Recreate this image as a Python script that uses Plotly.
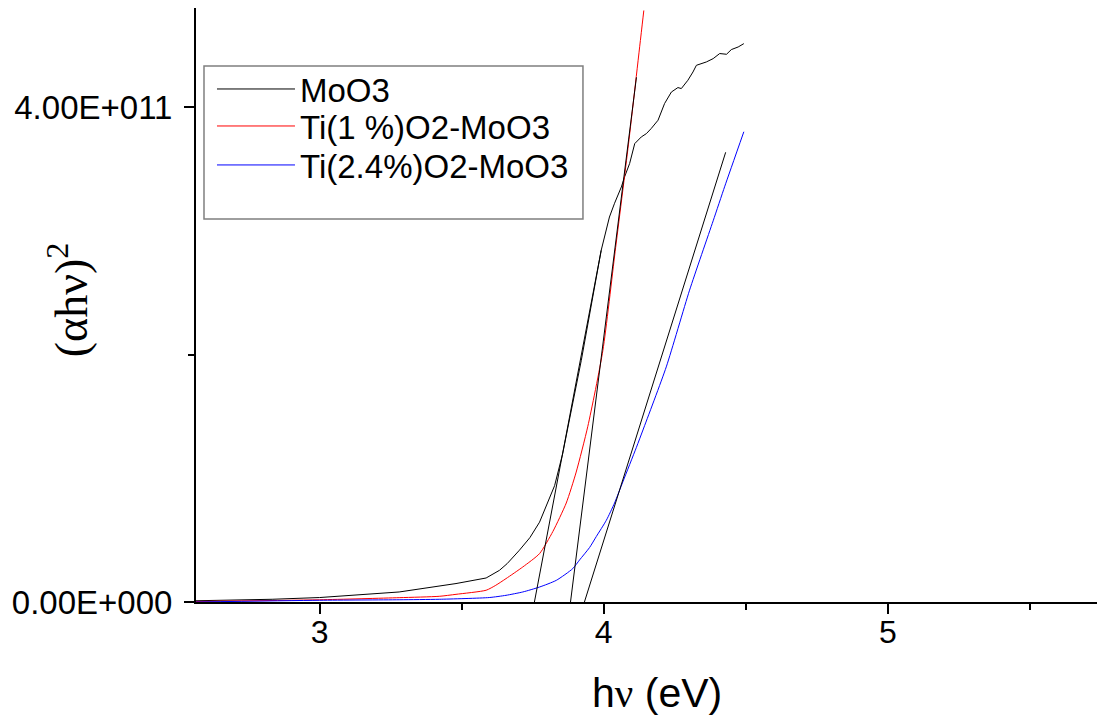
import plotly.graph_objects as go

# photon energy (eV) and (alpha h nu)^2, values in units of 1e11
moo3_ev = [2.565, 2.833, 3.0, 3.28, 3.48, 3.586, 3.633, 3.66, 3.703, 3.74, 3.774, 3.802,
           3.827, 3.855, 3.921, 3.991, 4.020, 4.038, 4.062, 4.073, 4.091, 4.109, 4.132,
           4.150, 4.167, 4.191, 4.214, 4.238, 4.261, 4.273, 4.296, 4.314, 4.326, 4.361,
           4.385, 4.408, 4.432, 4.449, 4.473, 4.493]
moo3_y = [0.010, 0.022, 0.036, 0.081, 0.149, 0.194, 0.256, 0.31, 0.418, 0.52, 0.645, 0.794,
          0.940, 1.195, 1.953, 2.842, 3.111, 3.222, 3.354, 3.434, 3.543, 3.704, 3.758,
          3.785, 3.826, 3.893, 4.028, 4.121, 4.157, 4.149, 4.216, 4.283, 4.337, 4.364,
          4.391, 4.432, 4.426, 4.464, 4.485, 4.512]

ti1_ev = [2.565, 3.0, 3.28, 3.421, 3.48, 3.586, 3.62, 3.656, 3.715, 3.774, 3.821, 3.868,
          3.903, 3.944, 3.997, 4.040, 4.087, 4.132, 4.141]
ti1_y = [0.004, 0.018, 0.035, 0.046, 0.062, 0.095, 0.135, 0.189, 0.283, 0.391, 0.57, 0.80,
         1.05, 1.42, 2.034, 2.83, 3.70, 4.60, 4.78]

ti24_ev = [2.565, 3.0, 3.28, 3.421, 3.597, 3.656, 3.715, 3.774, 3.833, 3.891, 3.915,
           3.950, 3.974, 4.009, 4.038, 4.067, 4.115, 4.138, 4.220, 4.302, 4.385, 4.426,
           4.493]
ti24_y = [0.0, 0.014, 0.018, 0.022, 0.036, 0.054, 0.081, 0.121, 0.175, 0.270, 0.34,
          0.44, 0.53, 0.66, 0.80, 0.97, 1.25, 1.39, 1.90, 2.52, 3.08, 3.36, 3.80]

# linear fits used to read the band gap
fit_moo3_ev = [3.756, 3.991]
fit_moo3_y = [0.0, 2.842]
fit_ti1_ev = [3.883, 4.115]
fit_ti1_y = [0.0, 4.24]
fit_ti24_ev = [3.932, 4.429]
fit_ti24_y = [0.0, 3.634]

names = ["MoO3", "Ti(1 %)O2-MoO3", "Ti(2.4%)O2-MoO3"]
colors = ["black", "red", "blue"]
legends = ["legend", "legend2", "legend3"]
shapes_ = ["linear", "spline", "spline"]

scale = 1e11
fig = go.Figure()
for name, col, lg, shp, xs, ys in zip(names, colors, legends, shapes_,
                                      [moo3_ev, ti1_ev, ti24_ev], [moo3_y, ti1_y, ti24_y]):
    fig.add_trace(go.Scatter(x=xs, y=[v * scale for v in ys], mode="lines", name=name,
                             legend=lg, line=dict(color=col, width=1, shape=shp, smoothing=0.6)))

for xs, ys in [(fit_moo3_ev, fit_moo3_y), (fit_ti1_ev, fit_ti1_y), (fit_ti24_ev, fit_ti24_y)]:
    fig.add_trace(go.Scatter(x=xs, y=[v * scale for v in ys], mode="lines", showlegend=False,
                             line=dict(color="black", width=1)))

sans = "Liberation Sans, Arial, sans-serif"
serif = "Liberation Serif, Times New Roman, serif"


def leg(y):
    return dict(x=0.0176, y=y, xanchor="left", yanchor="middle",
                bgcolor="rgba(0,0,0,0)", borderwidth=0,
                font=dict(size=33, family=sans), itemwidth=78)


# page body adds an 8px margin, so the figure is 8px smaller than the window
fig.update_layout(
    width=1097, height=711,
    margin=dict(l=188, r=0, t=0, b=117),
    plot_bgcolor="white", paper_bgcolor="white",
    font=dict(family=sans, size=32, color="black"),
    showlegend=True,
    legend=leg(0.8636), legend2=leg(0.8013), legend3=leg(0.7357),
    shapes=[dict(type="rect", xref="paper", yref="paper",
                 x0=0.0088, x1=0.4257, y0=0.6448, y1=0.9024,
                 line=dict(color="#7f7f7f", width=1.5))],
    annotations=[
        dict(text="h<span style='font-family:Liberation Serif'>ν</span> (eV)",
             xref="paper", yref="paper", x=0.507, y=-0.153, showarrow=False,
             xanchor="center", yanchor="middle", font=dict(size=41, family=sans)),
        dict(text="(αhν)<sup>2</sup>", textangle=-90,
             xref="paper", yref="paper", x=-0.1408, y=0.508, showarrow=False,
             xanchor="center", yanchor="middle", font=dict(size=46, family=serif)),
    ],
)
fig.update_xaxes(
    range=[2.565, 5.764], showgrid=False, zeroline=False, automargin=False,
    showline=True, linecolor="black", linewidth=2, mirror=True,
    ticks="outside", ticklen=10, tickwidth=2, tickcolor="black", dtick=1,
    minor=dict(dtick=0.5, ticks="outside", ticklen=6, tickwidth=2, tickcolor="black"),
    tickfont=dict(size=32), ticklabelstandoff=-9,
)
fig.update_yaxes(
    range=[0, 4.8e11], showgrid=False, zeroline=False, automargin=False,
    showline=True, linecolor="black", linewidth=2,
    ticks="outside", ticklen=10, tickwidth=2, tickcolor="black",
    tickvals=[0, 4e11], ticktext=["0.00E+000", "4.00E+011"],
    minor=dict(tickvals=[2e11], ticks="outside", ticklen=6, tickwidth=2, tickcolor="black"),
    tickfont=dict(size=33), ticklabelstandoff=5,
)

fig.write_html("out.html")
